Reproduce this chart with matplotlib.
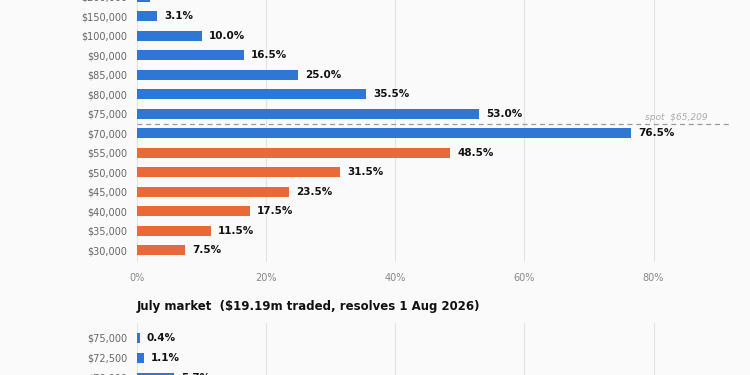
import numpy as np
import matplotlib.pyplot as plt

# June market (top panel)
june_strikes = ['$200,000', '$150,000', '$100,000', '$90,000', '$85,000', '$80,000', '$75,000',
                '$70,000', '$55,000', '$50,000', '$45,000', '$40,000', '$35,000', '$30,000']
june_probs = [2.0, 3.1, 10.0, 16.5, 25.0, 35.5, 53.0, 76.5, 48.5, 31.5, 23.5, 17.5, 11.5, 7.5]
june_side = ['up', 'up', 'up', 'up', 'up', 'up', 'up', 'up',
             'down', 'down', 'down', 'down', 'down', 'down']
spot_label = 'spot  $65,209'

# July market (bottom panel)
july_title = 'July market  ($19.19m traded, resolves 1 Aug 2026)'
july_strikes = ['$75,000', '$72,500', '$70,000']
july_probs = [0.4, 1.1, 5.7]
july_side = ['up', 'up', 'up']

BG = '#fafafa'
BLUE = '#2e77d4'
ORANGE = '#e96a38'
colors = {'up': BLUE, 'down': ORANGE}


def draw_panel(ax, strikes, probs, side):
    n = len(strikes)
    y = np.arange(n)[::-1]
    ax.barh(y, probs, height=0.52, color=[colors[s] for s in side], zorder=3)
    for yy, p in zip(y, probs):
        ax.annotate('%.1f%%' % p, (p, yy), xytext=(5, 0), textcoords='offset points',
                    va='center', ha='left', fontsize=7.5, fontweight='bold', color='#111111')
    ax.set_yticks(y)
    ax.set_yticklabels(strikes)
    ax.set_xlim(0, 92)
    ax.set_xticks([0, 20, 40, 60, 80])
    ax.set_xticklabels(['0%', '20%', '40%', '60%', '80%'])
    ax.tick_params(axis='both', length=0, labelsize=7)
    ax.tick_params(axis='y', pad=7, labelcolor='#666666')
    ax.tick_params(axis='x', pad=8, labelcolor='#888888')
    ax.grid(axis='x', color='#e4e4e4', lw=0.8, zorder=0)
    ax.set_facecolor(BG)
    for sp in ax.spines.values():
        sp.set_visible(False)
    return y


fig = plt.figure(figsize=(7.5, 3.75), dpi=100)
fig.patch.set_facecolor(BG)

ax1 = fig.add_axes([137 / 750, 0.3013, 594 / 750, 0.7384])
draw_panel(ax1, june_strikes, june_probs, june_side)
ax1.set_ylim(-0.6, len(june_strikes) - 0.4)
ax1.axhline(6.5, color='#9a9a9a', lw=0.9, ls=(0, (4, 3)), zorder=4)
ax1.text(0.96, 6.6, spot_label, transform=ax1.get_yaxis_transform(), ha='right', va='bottom',
         fontsize=6.5, style='italic', color='#aaaaaa')

ax2 = fig.add_axes([137 / 750, -0.04, 594 / 750, 0.1787])
draw_panel(ax2, july_strikes, july_probs, july_side)
ax2.set_ylim(-0.6, len(july_strikes) - 0.25)
ax2.set_title(july_title, loc='left', fontsize=8.5, fontweight='bold', color='#111111', pad=9)

fig.savefig('out.png', dpi=100, facecolor=BG)
